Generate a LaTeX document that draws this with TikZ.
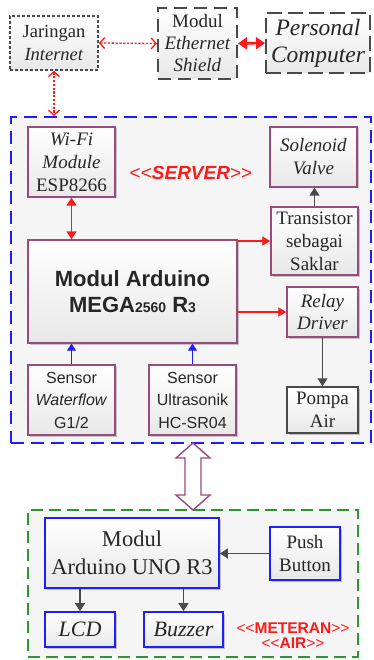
\documentclass[tikz,border=0pt]{standalone}
\usepackage{fontspec}
\setmainfont{Liberation Serif}
\setsansfont{Liberation Sans}
\usetikzlibrary{arrows.meta,shadows}
\definecolor{boxpurple}{HTML}{9B4A7C}
\definecolor{dblue}{HTML}{1E1EFF}
\definecolor{dgreen}{HTML}{2E962E}
\definecolor{dred}{HTML}{FF1A1A}
\definecolor{dgrey}{HTML}{4A4A4A}
\tikzset{
  shad/.style={drop shadow={shadow xshift=1.5pt,shadow yshift=-1.5pt,opacity=0.2,fill=black}},
  basebox/.style={inner sep=0pt, align=center, text=black!85, top color=white, bottom color=black!9},
  pbox/.style={basebox, draw=boxpurple, line width=1.4pt, shad, font=\fontsize{19}{23}\selectfont},
  gbox/.style={basebox, draw=dgrey, line width=1.5pt, shad, font=\fontsize{19}{23}\selectfont},
  bbox/.style={basebox, draw=dblue, line width=1.8pt, shad, font=\fontsize{22.5}{28}\selectfont},
  sbox/.style={pbox, font=\fontsize{16}{22.5}\selectfont\sffamily},
  dotarr/.style={draw=dred, line width=1.3pt, dash pattern=on 2.2pt off 1.6pt,
    {Straight Barb[length=5pt,width=11pt]}-{Straight Barb[length=5pt,width=11pt]}},
  thickred/.style={draw=dred, line width=2.6pt, {Triangle[length=9pt,width=12pt]}-{Triangle[length=9pt,width=12pt]}},
  redarr/.style={draw=dred, line width=1.3pt, -{Triangle[length=8pt,width=9pt]}},
  redboth/.style={draw=dred, line width=1.5pt, {Triangle[length=8pt,width=10pt]}-{Triangle[length=8pt,width=10pt]}},
  greyarr/.style={draw=dgrey, line width=1.5pt, -{Triangle[length=8pt,width=10pt]}},
  bluearr/.style={draw=dblue, line width=1.3pt, -{Triangle[length=7pt,width=9pt]}},
}
\begin{document}
\begin{tikzpicture}[x=1pt,y=-1pt]
\useasboundingbox (0,0) rectangle (374,660);
% containers
\node[draw=dblue, line width=2pt, dash pattern=on 13pt off 7pt, fill=black!4, minimum width=360, minimum height=326, inner sep=0pt] (server) at (191,280) {};
\node[draw=dgreen, line width=2pt, dash pattern=on 12pt off 6pt, fill=black!4, minimum width=330, minimum height=147, inner sep=0pt] (meter) at (193,583.5) {};
% top row
\node[basebox, draw=dgrey, line width=1.6pt, dash pattern=on 3pt off 2pt, minimum width=88, minimum height=54, font=\fontsize{18.5}{23}\selectfont] (jar) at (54,43) {Jaringan\\\textit{Internet}};
\node[basebox, draw=dgrey, line width=2pt, dash pattern=on 13pt off 7pt, minimum width=79, minimum height=71, font=\fontsize{19}{22}\selectfont] (eth) at (197.5,43.5) {Modul\\\textit{Ethernet}\\\textit{Shield}};
\node[basebox, draw=dgrey, line width=2pt, dash pattern=on 15pt off 6pt, minimum width=104, minimum height=60, font=\fontsize{23.5}{27}\selectfont\itshape] (pc) at (318,43) {Personal\\Computer};
% server content
\node[pbox, minimum width=87, minimum height=70] (wifi) at (71.5,162) {\textit{Wi-Fi}\\\textit{Module}\\ESP8266};
\node[text=dred, inner sep=0pt, font=\fontsize{19}{23}\selectfont\sffamily] (srvlabel) at (191,173) {<{}<\textbf{\textit{SERVER}}>{}>};
\node[pbox, minimum width=87, minimum height=60] (sol) at (313.5,157) {\textit{Solenoid}\\\textit{Valve}};
\node[pbox, minimum width=87, minimum height=68] (tra) at (314.5,241) {Transistor\\sebagai\\Saklar};
\node[pbox, minimum width=209, minimum height=103, font=\fontsize{22}{26}\selectfont\sffamily\bfseries] (mega) at (132.5,291.5) {Modul Arduino\\MEGA{\fontsize{14}{26}\selectfont 2560} R{\fontsize{14}{26}\selectfont 3}};
\node[pbox, minimum width=71, minimum height=50, font=\fontsize{19}{22}\selectfont\itshape] (relay) at (322.5,312) {Relay\\Driver};
\node[gbox, minimum width=71, minimum height=46, font=\fontsize{19}{23}\selectfont] (pompa) at (322.5,410) {Pompa\\Air};
\node[sbox, minimum width=87, minimum height=70] (swf) at (71.5,400) {Sensor\\\textit{Waterflow}\\G1/2};
\node[sbox, minimum width=87, minimum height=70] (sus) at (192.5,400) {Sensor\\Ultrasonik\\HC-SR04};
% meter content
\node[bbox, minimum width=174, minimum height=70] (uno) at (132,553) {Modul\\Arduino UNO R3};
\node[bbox, minimum width=70, minimum height=53, font=\fontsize{19}{22.5}\selectfont] (push) at (305,553.5) {Push\\Button};
\node[bbox, minimum width=70, minimum height=35, font=\fontsize{22}{26}\selectfont\itshape] (lcd) at (80,629.5) {LCD};
\node[bbox, minimum width=79, minimum height=35, font=\fontsize{22}{26}\selectfont\itshape] (buz) at (183.5,629.5) {Buzzer};
\node[text=dred, align=center, inner sep=0pt, font=\fontsize{15.5}{15}\selectfont\sffamily] (metlabel) at (293,635.5) {<{}<\textbf{METERAN}>{}>\\<{}<\textbf{AIR}>{}>};
% connectors
\draw[dotarr] (jar.east) -- (eth.west);
\draw[thickred] (eth.east) -- (pc.west);
\draw[dotarr] (jar.south) -- (jar.south |- server.north);
\draw[redboth] (wifi.south) -- (wifi.south |- mega.north);
\draw[redarr] (mega.east |- tra.west) -- (tra.west);
\draw[redarr] (mega.east |- relay.west) -- (relay.west);
\draw[greyarr] (tra.north) -- (tra.north |- sol.south);
\draw[greyarr] (relay.south) -- (pompa.north);
\draw[bluearr] (swf.north) -- (swf.north |- mega.south);
\draw[bluearr] (sus.north) -- (sus.north |- mega.south);
\draw[greyarr] (push.west) -- (push.west -| uno.east);
\draw[greyarr] (lcd.north |- uno.south) -- (lcd.north);
\draw[greyarr] (buz.north |- uno.south) -- (buz.north);
% big hollow double arrow between server and meter
\coordinate (at) at (193,443);
\coordinate (ab) at (193,510);
\draw[boxpurple, line width=1.4pt, fill=white, line join=miter]
  (at) -- ++(17,15) -- ++(-9,0) -- ++(0,37) -- ++(9,0) -- (ab) -- ++(-17,-15) -- ++(9,0) -- ++(0,-37) -- ++(-9,0) -- cycle;
\end{tikzpicture}
\end{document}
